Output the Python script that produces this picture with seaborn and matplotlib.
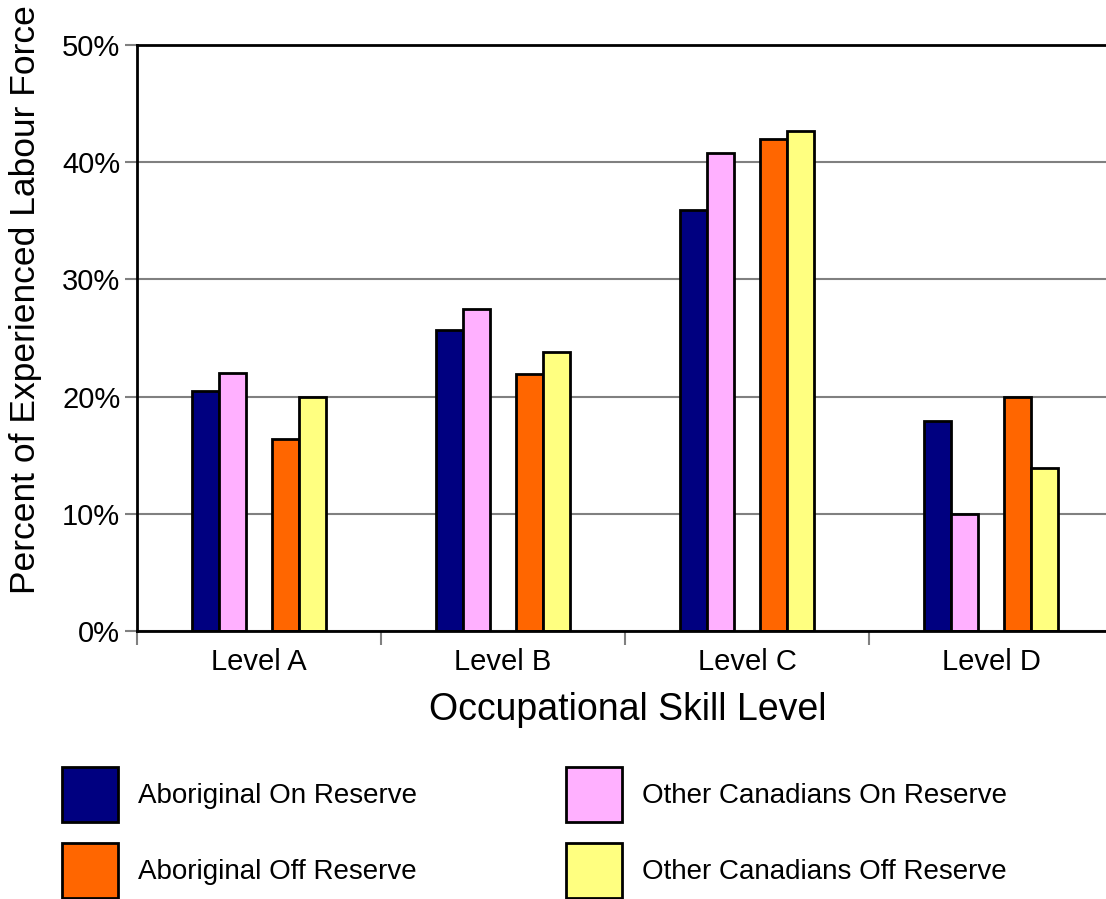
import pandas as pd
import matplotlib
matplotlib.use("Agg")
import matplotlib.pyplot as plt
from matplotlib.patches import Patch
from matplotlib.ticker import FixedLocator
import seaborn as sns

levels = ["Level A", "Level B", "Level C", "Level D"]
series = [
    "Aboriginal On Reserve",
    "Other Canadians On Reserve",
    "Aboriginal Off Reserve",
    "Other Canadians Off Reserve",
]
aboriginal_on = [20.5, 25.7, 35.9, 17.9]
other_on = [22.0, 27.5, 40.8, 10.0]
aboriginal_off = [16.4, 21.9, 42.0, 20.0]
other_off = [20.0, 23.8, 42.7, 13.9]
colors = ["#000080", "#FFB0FF", "#FF6600", "#FFFF80"]
y_ticks = [0, 10, 20, 30, 40, 50]
y_tick_labels = ["0%", "10%", "20%", "30%", "40%", "50%"]

GAP = " "  # empty slot between the on-reserve and off-reserve pairs


def main():
    rows = []
    for name, vals in zip(series, [aboriginal_on, other_on, aboriginal_off, other_off]):
        for lvl, v in zip(levels, vals):
            rows.append({"level": lvl, "group": name, "value": v})
    df = pd.DataFrame(rows)

    sns.set_style("white")
    plt.rcParams["font.family"] = ["Liberation Sans", "DejaVu Sans"]
    plt.rcParams["text.color"] = "black"
    plt.rcParams["axes.labelcolor"] = "black"
    plt.rcParams["xtick.color"] = "black"
    plt.rcParams["ytick.color"] = "black"

    fig = plt.figure(figsize=(11.06, 8.99), dpi=100)
    ax = fig.add_axes([137 / 1106, 268 / 899, 976 / 1106, 586 / 899])

    hue_order = [series[0], series[1], GAP, series[2], series[3]]
    palette = {series[0]: colors[0], series[1]: colors[1], GAP: "white",
               series[2]: colors[2], series[3]: colors[3]}

    sns.barplot(
        data=df, x="level", y="value", hue="group",
        order=levels, hue_order=hue_order, palette=palette,
        width=0.55, gap=0, errorbar=None, legend=False,
        edgecolor="black", linewidth=2, saturation=1, ax=ax,
    )

    ax.set_xlim(-0.5, 3.5)
    ax.set_ylim(0, 50)
    ax.set_yticks(y_ticks)
    ax.set_yticklabels(y_tick_labels, fontsize=21)
    ax.yaxis.grid(True, color="#808080", linewidth=1.5)
    ax.set_axisbelow(True)

    ax.xaxis.set_minor_locator(FixedLocator([-0.5, 0.5, 1.5, 2.5]))
    ax.tick_params(axis="x", which="major", length=0, pad=12, labelsize=21)
    ax.tick_params(axis="x", which="minor", bottom=True, length=10, width=1.5,
                   color="#808080")
    ax.tick_params(axis="y", length=9, width=1.5, color="#808080", pad=3, left=True)

    for side in ["left", "bottom", "top", "right"]:
        ax.spines[side].set_color("black")
        ax.spines[side].set_linewidth(2)

    ax.set_xlabel("Occupational Skill Level", fontsize=27)
    ax.set_ylabel("Percent of Experienced Labour Force", fontsize=25.5)
    ax.xaxis.set_label_coords(0.5026, -0.104)
    ax.yaxis.set_label_coords(-0.097, 0.565)

    handles = [Patch(facecolor=c, edgecolor="black", linewidth=2) for c in colors]
    order = [0, 2, 1, 3]
    fig.legend(
        [handles[i] for i in order], [series[i] for i in order],
        ncol=2, loc="upper left", bbox_to_anchor=(62 / 1106, 1 - 767 / 899),
        frameon=False, fontsize=20, borderpad=0, borderaxespad=0,
        handlelength=2.0, handleheight=2.67, handletextpad=0.72,
        labelspacing=0.75, columnspacing=5.38,
    )

    fig.savefig("out.png", dpi=100)


if __name__ == "__main__":
    main()
